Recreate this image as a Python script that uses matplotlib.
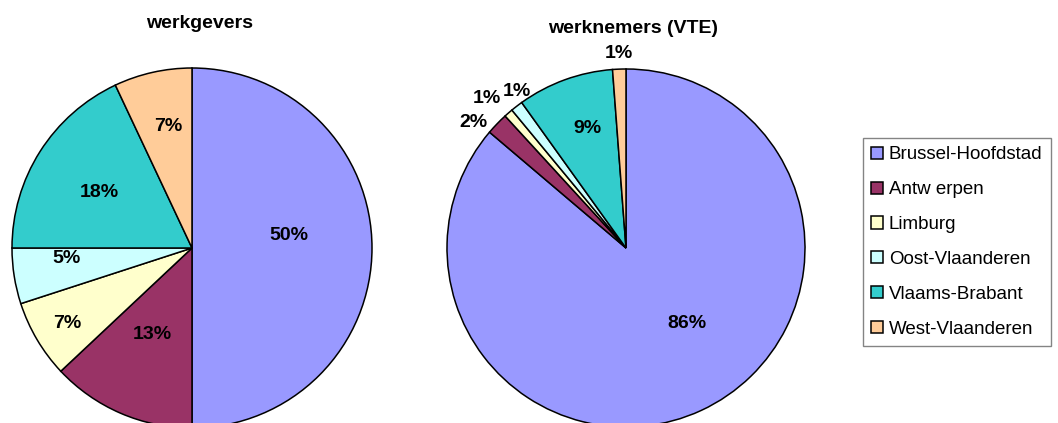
import matplotlib
matplotlib.use("Agg")
import matplotlib.pyplot as plt
import numpy as np

plt.rcParams['font.family'] = ['Liberation Sans', 'DejaVu Sans']

categories = ["Brussel-Hoofdstad", "Antw erpen", "Limburg", "Oost-Vlaanderen",
              "Vlaams-Brabant", "West-Vlaanderen"]
colors = ["#9999FF", "#993366", "#FFFFCC", "#CCFFFF", "#33CCCC", "#FFCC99"]

werkgevers = [50, 13, 7, 5, 18, 7]
werknemers = [86.2, 2.0, 0.8, 1.1, 8.7, 1.2]

# label placement per slice: radial fraction and angular offset (degrees)
lab_r_left = [0.54, 0.53, 0.81, 0.70, 0.60, 0.69]
lab_da_left = [7.1, -1.3, 0.4, -4.4, 1.5, -1.5]
lab_r_right = [0.54, 1.106, 1.14, 1.067, 0.70, 1.09]
lab_da_right = [14.0, 4.4, 2.0, -2.8, -2.0, 0.0]

W, H = 1058, 423
fig = plt.figure(figsize=(W / 100, H / 100), dpi=100)


def draw_pie(ax, values, lab_r, lab_da):
    wedges, _ = ax.pie(values, colors=colors, startangle=90, counterclock=False,
                       radius=1.0, wedgeprops=dict(edgecolor="black", linewidth=1.1))
    total = sum(values)
    for w, v, r, da in zip(wedges, values, lab_r, lab_da):
        ang = np.deg2rad((w.theta1 + w.theta2) / 2 + da)
        ax.text(r * np.cos(ang), r * np.sin(ang), f"{round(100 * v / total):d}%",
                ha="center", va="center", fontsize=14, fontweight="bold")
    ax.set_xlim(-1, 1)
    ax.set_ylim(-1, 1)
    ax.axis("off")
    return wedges


def px_axes(x0, y0top, size):
    return fig.add_axes([x0 / W, (H - y0top - size) / H, size / W, size / H])


ax1 = px_axes(12, 68, 360)
wedges = draw_pie(ax1, werkgevers, lab_r_left, lab_da_left)
fig.text(200 / W, 1 - 28 / H, "werkgevers", ha="center", va="baseline",
         fontsize=14, fontweight="bold")

ax2 = px_axes(447, 69, 358)
draw_pie(ax2, werknemers, lab_r_right, lab_da_right)
fig.text(633 / W, 1 - 33 / H, "werknemers (VTE)", ha="center", va="baseline",
         fontsize=14, fontweight="bold")

leg = fig.legend(wedges, categories, loc="upper left",
                 bbox_to_anchor=(863 / W, 1 - 138 / H), frameon=True,
                 fancybox=False, edgecolor="#666666", fontsize=13.5,
                 handlelength=0.62, handleheight=0.62, handletextpad=0.3,
                 labelspacing=0.95, borderpad=0.45, borderaxespad=0)
leg.get_frame().set_linewidth(1.0)

fig.savefig("out.png", dpi=100)
